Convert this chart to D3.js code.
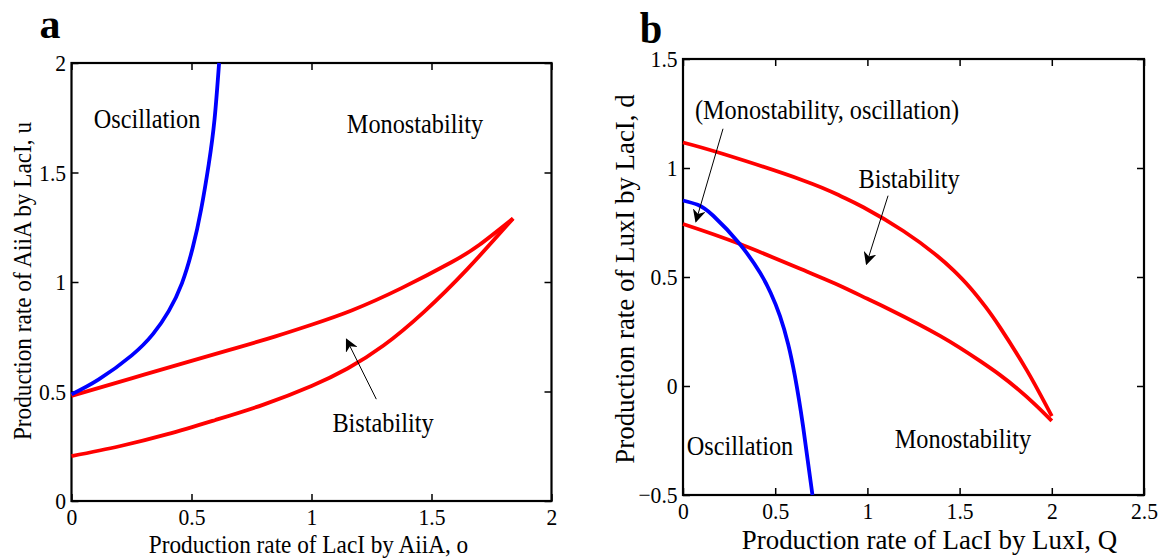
<!DOCTYPE html>
<html>
<head>
<meta charset="utf-8">
<script src="https://cdn.jsdelivr.net/npm/d3@7"></script>
<style>
  body { margin: 0; background: #fff; }
  svg text { font-family: "Liberation Serif", "Times New Roman", serif; fill: #000; }
</style>
</head>
<body>
<div class="chart"></div>
<script>
// ---- panel a : (o, u) plane ----
var aBlueX = [0, 0.112, 0.251, 0.34, 0.405, 0.46, 0.505, 0.54, 0.572, 0.596, 0.615];
var aBlueY = [0.487, 0.554, 0.665, 0.763, 0.867, 0.994, 1.156, 1.331, 1.539, 1.743, 2.0];
var aRedUpX = [0, 0.25, 0.5, 0.681, 0.85, 1.0, 1.167, 1.375, 1.583, 1.7, 1.84];
var aRedUpY = [0.48, 0.56, 0.64, 0.697, 0.752, 0.805, 0.87, 0.972, 1.09, 1.17, 1.29];
var aRedLoX = [0, 0.2, 0.4, 0.6, 0.8, 1.0, 1.15, 1.3, 1.47, 1.65, 1.84];
var aRedLoY = [0.205, 0.25, 0.305, 0.37, 0.44, 0.525, 0.605, 0.71, 0.865, 1.06, 1.29];
var aXTicks = [0, 0.5, 1, 1.5, 2];
var aYTicks = [0, 0.5, 1, 1.5, 2];

// ---- panel b : (Q, d) plane ----
var bBlueX = [0, 0.08, 0.164, 0.309, 0.418, 0.475, 0.526, 0.57, 0.607, 0.651, 0.702];
var bBlueY = [0.851, 0.831, 0.781, 0.65, 0.519, 0.428, 0.321, 0.193, 0.045, -0.184, -0.5];
var bRedUpX = [0, 0.219, 0.652, 0.851, 0.978, 1.195, 1.376, 1.47, 1.556, 1.64, 1.719, 1.864, 2.0];
var bRedUpY = [1.117, 1.064, 0.943, 0.873, 0.82, 0.711, 0.599, 0.528, 0.452, 0.364, 0.269, 0.073, -0.138];
var bRedLoX = [0, 0.309, 0.671, 0.851, 1.0, 1.123, 1.394, 1.61, 1.72, 1.81, 1.91, 2.0];
var bRedLoY = [0.743, 0.651, 0.525, 0.46, 0.40, 0.35, 0.23, 0.115, 0.05, -0.01, -0.085, -0.16];
var bXTicks = [0, 0.5, 1, 1.5, 2, 2.5];
var bYTicks = [-0.5, 0, 0.5, 1, 1.5];

function zip(xs, ys) {
  return xs.map(function (x, i) { return [x, ys[i]]; });
}

var width = 1163, height = 558;
var svg = d3.select(".chart").append("svg")
  .attr("width", width).attr("height", height);

svg.append("defs").append("marker")
  .attr("id", "head")
  .attr("viewBox", "0 0 10 10")
  .attr("refX", 9).attr("refY", 5)
  .attr("markerWidth", 13).attr("markerHeight", 13)
  .attr("markerUnits", "userSpaceOnUse")
  .attr("orient", "auto")
  .append("path").attr("d", "M0,0 L10,5 L0,10 L3,5 Z").attr("fill", "#000");

// text squeezed sideways, the figure was stretched vertically
function label(g, x, y, str, size, sx, rot, bold) {
  var t = "translate(" + x + "," + y + ")" + (rot ? " rotate(-90)" : "") + " scale(" + sx + ",1)";
  return g.append("text")
    .attr("transform", t)
    .attr("text-anchor", "middle")
    .style("font-size", size + "px")
    .style("font-weight", bold ? "bold" : "normal")
    .text(str);
}

function drawPanel(p) {
  var x = d3.scaleLinear().domain(p.xDomain).range(p.xRange);
  var y = d3.scaleLinear().domain(p.yDomain).range(p.yRange);
  var g = svg.append("g");
  var fmt = d3.format("");

  // ticks pointing inward on all four sides
  g.append("g").attr("transform", "translate(0," + p.yRange[0] + ")")
    .call(d3.axisBottom(x).tickValues(p.xTicks).tickSizeInner(-7).tickSizeOuter(0).tickPadding(7).tickFormat(fmt));
  g.append("g").attr("transform", "translate(0," + p.yRange[1] + ")")
    .call(d3.axisTop(x).tickValues(p.xTicks).tickSizeInner(-7).tickSizeOuter(0).tickFormat(""));
  g.append("g").attr("transform", "translate(" + p.xRange[0] + ",0)")
    .call(d3.axisLeft(y).tickValues(p.yTicks).tickSizeInner(-7).tickSizeOuter(0).tickPadding(6).tickFormat(fmt));
  g.append("g").attr("transform", "translate(" + p.xRange[1] + ",0)")
    .call(d3.axisRight(y).tickValues(p.yTicks).tickSizeInner(-7).tickSizeOuter(0).tickFormat(""));
  g.selectAll(".domain").remove();
  g.selectAll(".tick line").attr("stroke", "#000").attr("stroke-width", 1.5);
  g.selectAll(".tick text")
    .style("font-size", p.tickFont + "px")
    .attr("transform", "scale(" + p.sx + ",1)");

  g.append("rect")
    .attr("x", p.xRange[0]).attr("y", p.yRange[1])
    .attr("width", p.xRange[1] - p.xRange[0]).attr("height", p.yRange[0] - p.yRange[1])
    .attr("fill", "none").attr("stroke", "#000").attr("stroke-width", 2.2);

  var line = d3.line()
    .x(function (d) { return x(d[0]); })
    .y(function (d) { return y(d[1]); })
    .curve(d3.curveNatural);

  p.curves.forEach(function (c) {
    g.append("path").datum(c.pts)
      .attr("d", line)
      .attr("fill", "none")
      .attr("stroke", c.color)
      .attr("stroke-width", 3.8)
      .attr("stroke-linejoin", "round");
  });

  p.arrows.forEach(function (a) {
    g.append("line")
      .attr("x1", x(a[0])).attr("y1", y(a[1]))
      .attr("x2", x(a[2])).attr("y2", y(a[3]))
      .attr("stroke", "#000").attr("stroke-width", 1)
      .attr("marker-end", "url(#head)");
  });

  p.notes.forEach(function (n) {
    label(g, x(n.x), y(n.y), n.t, p.noteFont, p.sx, false, false);
  });

  var cx = (p.xRange[0] + p.xRange[1]) / 2;
  var cy = (p.yRange[0] + p.yRange[1]) / 2;
  label(g, cx + p.xTitleDx, p.xTitleY, p.xTitle, p.titleFont, p.titleSx, false, false);
  label(g, p.yTitleX, cy + p.yTitleDy, p.yTitle, p.titleFont, p.titleSx, true, false);
  label(g, p.letterX, p.letterY, p.letter, p.letterFont, p.letterSx, false, true);
}

drawPanel({
  letter: "a", letterX: 50, letterY: 38, letterFont: 40, letterSx: 1.05,
  xDomain: [0, 2], xRange: [71.5, 551.5],
  yDomain: [0, 2], yRange: [501, 63],
  xTicks: aXTicks, yTicks: aYTicks,
  sx: 0.9, tickFont: 24, noteFont: 27, titleFont: 25, titleSx: 0.93,
  xTitle: "Production rate of LacI by AiiA, o", xTitleY: 553, xTitleDx: -3,
  yTitle: "Production rate of AiiA by LacI, u", yTitleX: 31, yTitleDy: -1,
  curves: [
    { pts: zip(aRedUpX, aRedUpY), color: "#ff0000" },
    { pts: zip(aRedLoX, aRedLoY), color: "#ff0000" },
    { pts: zip(aBlueX, aBlueY), color: "#0000ff" }
  ],
  arrows: [[1.27, 0.465, 1.146, 0.738]],
  notes: [
    { t: "Oscillation", x: 0.315, y: 1.703 },
    { t: "Monostability", x: 1.431, y: 1.68 },
    { t: "Bistability", x: 1.298, y: 0.315 }
  ]
});

drawPanel({
  letter: "b", letterX: 651, letterY: 43, letterFont: 44, letterSx: 0.92,
  xDomain: [0, 2.5], xRange: [683, 1144],
  yDomain: [-0.5, 1.5], yRange: [495, 59],
  xTicks: bXTicks, yTicks: bYTicks,
  sx: 0.9, tickFont: 24, noteFont: 27, titleFont: 28, titleSx: 0.96,
  xTitle: "Production rate of LacI by LuxI, Q", xTitleY: 549, xTitleDx: 16,
  yTitle: "Production rate of LuxI by LacI, d", yTitleX: 634, yTitleDy: 2,
  curves: [
    { pts: zip(bRedUpX, bRedUpY), color: "#ff0000" },
    { pts: zip(bRedLoX, bRedLoY), color: "#ff0000" },
    { pts: zip(bBlueX, bBlueY), color: "#0000ff" }
  ],
  arrows: [[0.217, 1.18, 0.07, 0.755], [1.112, 0.873, 0.995, 0.56]],
  notes: [
    { t: "(Monostability, oscillation)", x: 0.781, y: 1.226 },
    { t: "Bistability", x: 1.226, y: 0.909 },
    { t: "Oscillation", x: 0.309, y: -0.315 },
    { t: "Monostability", x: 1.518, y: -0.286 }
  ]
});
</script>
</body>
</html>
